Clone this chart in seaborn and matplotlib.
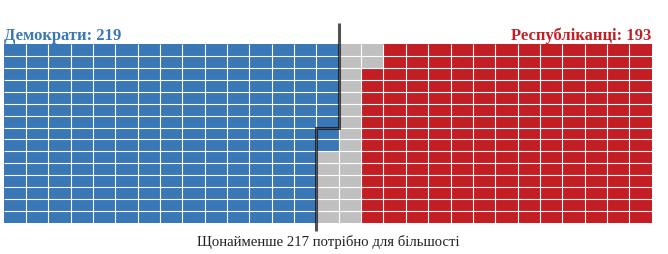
import numpy as np
import pandas as pd
import matplotlib
matplotlib.use("Agg")
import matplotlib.pyplot as plt
from matplotlib.colors import ListedColormap
import seaborn as sns

# ---- data ----
parties = ["Демократи", "Не визначено", "Республіканці"]
seats = [219, 23, 193]
total_seats = 435
n_rows = 15
majority = 217
title_left = "Демократи: 219"
title_right = "Республіканці: 193"
note = "Щонайменше 217 потрібно для більшості"

colors = ["#3a77b7", "#c0c0c0", "#c41e25"]

n_cols = total_seats // n_rows
dem, undecided, rep = seats

# column-major fill: democrats from top-left, republicans from bottom-right
flat = np.ones(total_seats, dtype=int)
flat[:dem] = 0
flat[total_seats - rep:] = 2
grid = flat.reshape(n_cols, n_rows).T
df = pd.DataFrame(grid)

sns.set_theme(style="white")
fig = plt.figure(figsize=(6.68, 2.55), dpi=100)
ax = fig.add_axes([3.5 / 668, 31 / 255, (651.7 - 3.5) / 668, 179 / 255])

sns.heatmap(df, ax=ax, cmap=ListedColormap(colors), vmin=-0.5, vmax=2.5,
            cbar=False, linewidths=0,
            xticklabels=False, yticklabels=False)

# thin white cell separators
ax.vlines(np.arange(1, n_cols), 0, n_rows, color="white", lw=0.8, snap=True, zorder=3)
ax.hlines(np.arange(1, n_rows), 0, n_cols, color="white", lw=0.8, snap=True, zorder=3)

# majority step line
mc, mr = divmod(majority, n_rows)
ax.plot([mc + 1, mc + 1, mc, mc], [-1.75, mr, mr, n_rows + 0.65],
        color="black", alpha=0.68, lw=2.2, clip_on=False,
        solid_joinstyle="miter", solid_capstyle="butt", zorder=5)

serif = ["Liberation Serif", "DejaVu Serif"]
fig.text(4 / 668, 1 - 39.5 / 255, title_left, color=colors[0], fontsize=11.9,
         fontweight="bold", family=serif, ha="left", va="baseline")
fig.text(651.5 / 668, 1 - 39.5 / 255, title_right, color=colors[2], fontsize=11.9,
         fontweight="bold", family=serif, ha="right", va="baseline")
fig.text(328.5 / 668, 1 - 246 / 255, note, color="#222222", fontsize=10.6,
         family=serif, ha="center", va="baseline")

fig.savefig("out.png", dpi=100)
